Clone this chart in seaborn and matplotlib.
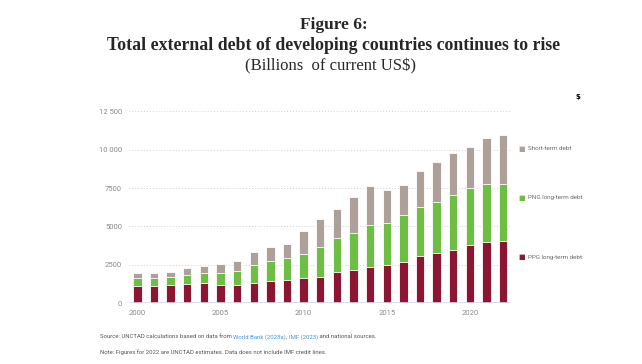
import matplotlib
matplotlib.use('Agg')
import matplotlib.pyplot as plt
import seaborn as sns
import pandas as pd

# values (billions of current US$)
years = list(range(2000, 2023))
ppg_long_term = [1150, 1150, 1190, 1255, 1300, 1215, 1215, 1300, 1430, 1540, 1670, 1735,
                 2015, 2150, 2345, 2475, 2690, 3060, 3275, 3490, 3795, 3990, 4035]
png_long_term = [520, 520, 525, 605, 650, 735, 865, 1170, 1345, 1390, 1560, 1955,
                 2215, 2405, 2755, 2775, 3040, 3230, 3340, 3580, 3730, 3755, 3755]
short_term = [320, 320, 315, 420, 500, 610, 695, 870, 890, 930, 1475, 1780,
              1910, 2365, 2515, 2105, 1970, 2340, 2585, 2695, 2670, 2995, 3165]

tick_years = [2000, 2005, 2010, 2015, 2020]
y_ticks = [0, 2500, 5000, 7500, 10000, 12500]
y_tick_labels = ['0', '2500', '5000', '7500', '10 000', '12 500']

series_names = ['Short-term debt', 'PNG long-term debt', 'PPG long-term debt']
colors = {'PPG long-term debt': '#8c1532',
          'PNG long-term debt': '#6ebe46',
          'Short-term debt': '#aca099'}

df = pd.DataFrame({'year': [str(y) for y in years],
                   'PPG long-term debt': ppg_long_term,
                   'PNG long-term debt': png_long_term,
                   'Short-term debt': short_term})
df['ppg_top'] = df['PPG long-term debt']
df['png_top'] = df['ppg_top'] + df['PNG long-term debt']
df['total'] = df['png_top'] + df['Short-term debt']

sns.set_style('white')
fig = plt.figure(figsize=(6.42, 3.64), dpi=100)
ax = fig.add_axes([0.201, 0.167, 0.593, 0.540])

# stacked bars: draw cumulative heights from the top segment down
for col, name in [('total', 'Short-term debt'),
                  ('png_top', 'PNG long-term debt'),
                  ('ppg_top', 'PPG long-term debt')]:
    sns.barplot(data=df, x='year', y=col, color=colors[name], saturation=1,
                width=0.5, edgecolor='white', linewidth=0.6, errorbar=None, ax=ax)

ax.set_ylim(0, 12800)
ax.set_xlim(-0.5, len(years) - 0.6)
ax.set_yticks(y_ticks)
ax.set_yticklabels(y_tick_labels)
ax.set_xticks([years.index(y) for y in tick_years])
ax.set_xticklabels([str(y) for y in tick_years])
ax.set_xlabel('')
ax.set_ylabel('')
for lbl in ax.get_xticklabels() + ax.get_yticklabels():
    lbl.set_fontfamily('Roboto')
    lbl.set_fontsize(5.5)
    lbl.set_color('#8a8a8a')
ax.tick_params(axis='both', length=0, pad=5)
ax.grid(axis='y', linestyle=(0, (1, 2)), color='#d0d0d0', linewidth=0.7)
ax.set_axisbelow(True)
ax.axhline(0, color='#d3dae6', linewidth=1.2, zorder=5)
sns.despine(ax=ax, left=True, bottom=True)

# legend items on the right
legend_y = {'Short-term debt': 149, 'PNG long-term debt': 198, 'PPG long-term debt': 257}
for name in series_names:
    yy = 1 - legend_y[name] / 364
    fig.text(518 / 642, yy, '\u25a0', color=colors[name], fontsize=5,
             va='center', ha='left', family='DejaVu Sans')
    fig.text(527.5 / 642, yy, name, color='#6a6a6a', fontsize=4.5,
             va='center', ha='left', family='Roboto')

# titles
fig.text(0.52, 1 - 25 / 364, 'Figure 6:', ha='center', va='center',
         fontsize=12.5, fontweight='bold', family='Liberation Serif')
fig.text(0.52, 1 - 45 / 364, 'Total external debt of developing countries continues to rise',
         ha='center', va='center', fontsize=12.8, fontweight='bold', family='Liberation Serif')
fig.text(0.515, 1 - 66 / 364, '(Billions  of current US$)', ha='center', va='center',
         fontsize=12, family='Liberation Serif')
fig.text(578 / 642, 1 - 97 / 364, '$', ha='center', va='center', fontsize=5,
         fontweight='bold', color='black')

# source and note
src_y = 1 - 337 / 364
parts = [('Source: UNCTAD calculations based on data from ', '#555555'),
         ('World Bank (2023a)', '#3a9ad9'),
         (', ', '#555555'),
         ('IMF (2023)', '#3a9ad9'),
         (' and national sources.', '#555555')]
x0 = 100 / 642
renderer = fig.canvas.get_renderer()
for txt, col in parts:
    t = fig.text(x0, src_y, txt, color=col, fontsize=4.3, family='Roboto',
                 ha='left', va='center')
    bb = t.get_window_extent(renderer=renderer)
    x0 += bb.width / fig.bbox.width
fig.text(100 / 642, 1 - 352 / 364,
         'Note: Figures for 2022 are UNCTAD estimates. Data does not include IMF credit lines.',
         color='#555555', fontsize=4.3, family='Roboto', ha='left', va='center')

fig.savefig('out.png', dpi=100)
